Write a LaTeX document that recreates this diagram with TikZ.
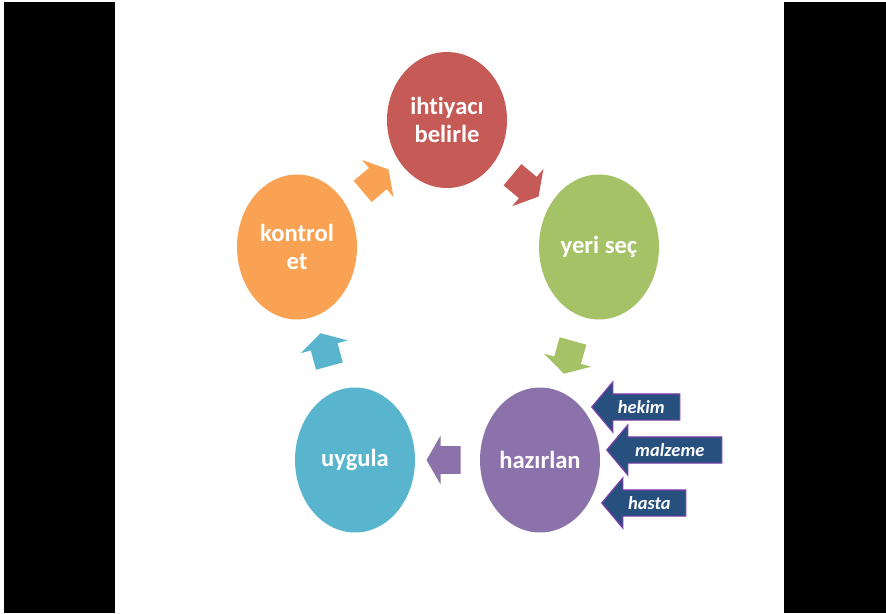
\documentclass[tikz,border=0pt]{standalone}
\usepackage{fontspec}
\setmainfont{Carlito}[Ligatures=NoCommon]
\usetikzlibrary{shapes.geometric, shapes.arrows}
\definecolor{redstage}{HTML}{C55A56}
\definecolor{greenstage}{HTML}{A6C266}
\definecolor{orangestage}{HTML}{F9A254}
\definecolor{bluestage}{HTML}{58B5CD}
\definecolor{purplestage}{HTML}{8C72AB}
\definecolor{inblue}{HTML}{27507F}
\definecolor{inborder}{HTML}{7A3EA8}

\begin{document}
\begin{tikzpicture}[
  x=0.02cm, y=-0.02cm,
  stage/.style={ellipse, minimum width=2.4cm, minimum height=2.9cm, inner sep=0,
    text=white, align=center, font=\bfseries\fontsize{14}{16}\selectfont},
  cyc/.style={single arrow, minimum height=0.68cm, inner xsep=0, inner ysep=0.27cm,
    single arrow head extend=0.21cm, single arrow tip angle=120,
    midway, sloped, allow upside down},
  input/.style={single arrow, shape border rotate=180, fill=inblue, draw=inborder,
    line width=0.7pt, inner xsep=0, inner ysep=0.95mm, text height=2.8mm, text depth=0.3mm,
    single arrow head extend=0.24cm, single arrow tip angle=100, anchor=tip,
    text=white, font=\bfseries\itshape\fontsize{10.5}{12}\selectfont}
]
\useasboundingbox (0,0) rectangle (886,613);
% slide and black margins
\fill[white] (0,0) rectangle (886,613);
\fill[black] (4,2) rectangle (115,613);
\fill[black] (784,2) rectangle (886,613);

% the five steps
\node[stage, fill=redstage, minimum height=2.72cm] (belirle) at (447,120) {ihtiyacı\\belirle};
\node[stage, fill=greenstage] (sec) at (599,247) {yeri seç};
\node[stage, fill=purplestage] (hazirlan) at (540,460) {hazırlan};
\node[stage, fill=bluestage] (uygula) at (355,460) {uygula};
\node[stage, fill=orangestage] (kontrol) at (297,247) {kontrol\\et};

% cycle arrows
\path (belirle) -- (sec) node[cyc, fill=redstage] (a1) {};
\path (sec) -- (hazirlan) node[cyc, fill=greenstage] (a2) {};
\path (hazirlan) -- (uygula) node[cyc, fill=purplestage] (a3) {};
\path (uygula) -- (kontrol) node[cyc, fill=bluestage] (a4) {};
\path (kontrol) -- (belirle) node[cyc, fill=orangestage] (a5) {};

% inputs to hazirlan
\coordinate (t1) at (591,407);
\coordinate (t2) at (606,450);
\coordinate (t3) at (601,503);
\node[input, minimum height=1.76cm] (hekim) at (t1) {hekim};
\node[input, minimum height=2.3cm] (malzeme) at (t2) {malzeme};
\node[input, minimum height=1.68cm] (hasta) at (t3) {hasta};
\end{tikzpicture}
\end{document}
